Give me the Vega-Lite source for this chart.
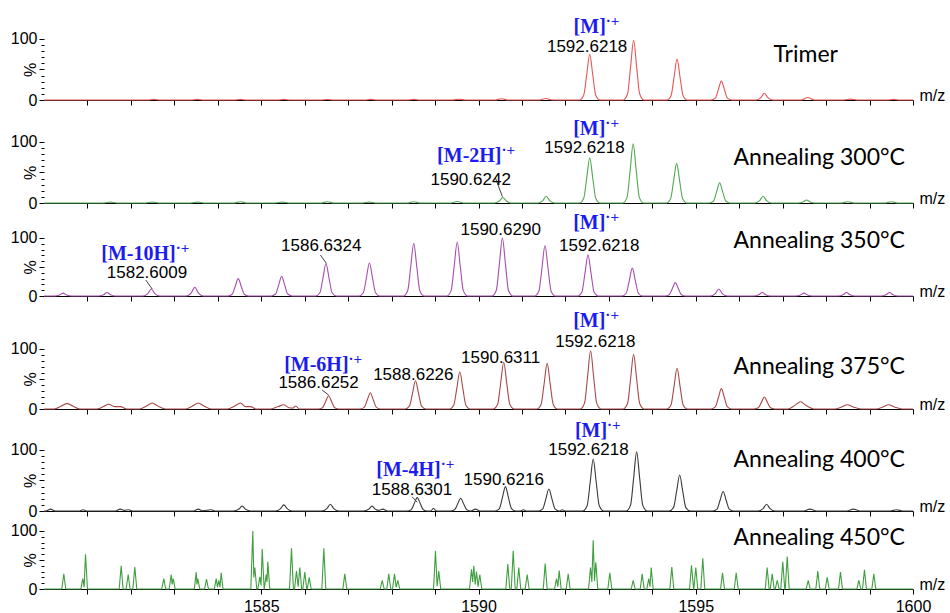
{
"$schema":"https://vega.github.io/schema/vega-lite/v6.json",
"padding":{"left":10,"top":0,"right":0,"bottom":0},
"autosize":{"type":"pad"},
"bounds":"flush",
"spacing":0,
"config":{"view":{"stroke":null},"axis":{"labelFont":"Liberation Sans","labelFontSize":16,"labelColor":"black","titleFont":"Liberation Sans","titleFontSize":16,"titleFontWeight":"normal","titleColor":"black","tickColor":"black","domainColor":"black","grid":false}},
"datasets":{
"s1":[{"x":1580,"y":0},{"x":1582.38,"y":0},{"x":1582.53,"y":1},{"x":1582.68,"y":0},{"x":1583.38,"y":0},{"x":1583.53,"y":1},{"x":1583.68,"y":0},{"x":1584.37,"y":0},{"x":1584.52,"y":1},{"x":1584.67,"y":0},{"x":1585.37,"y":0},{"x":1585.52,"y":1},{"x":1585.67,"y":0},{"x":1586.37,"y":0},{"x":1586.52,"y":0.8},{"x":1586.67,"y":0},{"x":1587.37,"y":0},{"x":1587.52,"y":1},{"x":1587.67,"y":0},{"x":1588.36,"y":0},{"x":1588.51,"y":1},{"x":1588.66,"y":0},{"x":1589.4,"y":0},{"x":1589.55,"y":1.2},{"x":1589.7,"y":0},{"x":1590.38,"y":0},{"x":1590.53,"y":2},{"x":1590.68,"y":0},{"x":1591.4,"y":0},{"x":1591.55,"y":2.5},{"x":1591.7,"y":0},
{"x":1592.32,"y":0},{"x":1592.42,"y":7.5},{"x":1592.49,"y":41.3},{"x":1592.56,"y":75},{"x":1592.63,"y":41.3},{"x":1592.7,"y":7.5},{"x":1592.8,"y":0},
{"x":1593.33,"y":0},{"x":1593.43,"y":9.8},{"x":1593.5,"y":53.9},{"x":1593.57,"y":98},{"x":1593.64,"y":53.9},{"x":1593.71,"y":9.8},{"x":1593.81,"y":0},
{"x":1594.33,"y":0},{"x":1594.43,"y":6.7},{"x":1594.5,"y":36.9},{"x":1594.57,"y":67},{"x":1594.64,"y":36.9},{"x":1594.71,"y":6.7},{"x":1594.81,"y":0},
{"x":1595.35,"y":0},{"x":1595.45,"y":3.1},{"x":1595.52,"y":17.1},{"x":1595.59,"y":31},{"x":1595.66,"y":17.1},{"x":1595.73,"y":3.1},{"x":1595.83,"y":0},
{"x":1596.38,"y":0},{"x":1596.5,"y":3.9},{"x":1596.58,"y":11},{"x":1596.66,"y":3.9},{"x":1596.78,"y":0},
{"x":1597.43,"y":0},{"x":1597.58,"y":4},{"x":1597.73,"y":0},{"x":1598.41,"y":0},{"x":1598.56,"y":1.5},{"x":1598.71,"y":0},{"x":1599.4,"y":0},{"x":1599.55,"y":1},{"x":1599.7,"y":0},{"x":1600,"y":0}],
"s2":[{"x":1580,"y":0},{"x":1581.38,"y":0},{"x":1581.53,"y":1.5},{"x":1581.68,"y":0},{"x":1582.34,"y":0},{"x":1582.49,"y":1.5},{"x":1582.64,"y":0},{"x":1583.38,"y":0},{"x":1583.53,"y":1.5},{"x":1583.68,"y":0},{"x":1584.37,"y":0},{"x":1584.52,"y":2},{"x":1584.67,"y":0},{"x":1585.33,"y":0},{"x":1585.48,"y":1.5},{"x":1585.63,"y":0},{"x":1586.37,"y":0},{"x":1586.52,"y":2},{"x":1586.67,"y":0},{"x":1587.33,"y":0},{"x":1587.48,"y":1.5},{"x":1587.63,"y":0},{"x":1588.36,"y":0},{"x":1588.51,"y":2},{"x":1588.66,"y":0},{"x":1589.36,"y":0},{"x":1589.51,"y":2.5},{"x":1589.66,"y":0},
{"x":1590.36,"y":0},{"x":1590.48,"y":3.2},{"x":1590.56,"y":9},{"x":1590.64,"y":3.2},{"x":1590.76,"y":0},
{"x":1591.36,"y":0},{"x":1591.48,"y":3.9},{"x":1591.56,"y":11},{"x":1591.64,"y":3.9},{"x":1591.76,"y":0},
{"x":1592.32,"y":0},{"x":1592.42,"y":7.4},{"x":1592.49,"y":40.7},{"x":1592.56,"y":74},{"x":1592.63,"y":40.7},{"x":1592.7,"y":7.4},{"x":1592.8,"y":0},
{"x":1593.32,"y":0},{"x":1593.42,"y":9.7},{"x":1593.49,"y":53.4},{"x":1593.56,"y":97},{"x":1593.63,"y":53.4},{"x":1593.7,"y":9.7},{"x":1593.8,"y":0},
{"x":1594.32,"y":0},{"x":1594.42,"y":6.5},{"x":1594.49,"y":35.8},{"x":1594.56,"y":65},{"x":1594.63,"y":35.8},{"x":1594.7,"y":6.5},{"x":1594.8,"y":0},
{"x":1595.31,"y":0},{"x":1595.41,"y":3.3},{"x":1595.48,"y":18.2},{"x":1595.55,"y":33},{"x":1595.62,"y":18.2},{"x":1595.69,"y":3.3},{"x":1595.79,"y":0},
{"x":1596.35,"y":0},{"x":1596.47,"y":3.9},{"x":1596.55,"y":11},{"x":1596.63,"y":3.9},{"x":1596.75,"y":0},
{"x":1597.35,"y":0},{"x":1597.47,"y":1.8},{"x":1597.55,"y":5},{"x":1597.63,"y":1.8},{"x":1597.75,"y":0},
{"x":1598.35,"y":0},{"x":1598.5,"y":2},{"x":1598.65,"y":0},{"x":1599.35,"y":0},{"x":1599.5,"y":2},{"x":1599.65,"y":0},{"x":1600,"y":0}],
"s3":[{"x":1580,"y":0},
{"x":1580.24,"y":0},{"x":1580.36,"y":1.8},{"x":1580.44,"y":5},{"x":1580.52,"y":1.8},{"x":1580.64,"y":0},
{"x":1581.25,"y":0},{"x":1581.37,"y":2.1},{"x":1581.45,"y":6},{"x":1581.53,"y":2.1},{"x":1581.65,"y":0},
{"x":1582.27,"y":0},{"x":1582.39,"y":4.2},{"x":1582.47,"y":12},{"x":1582.55,"y":4.2},{"x":1582.67,"y":0},
{"x":1583.27,"y":0},{"x":1583.39,"y":5.3},{"x":1583.47,"y":15},{"x":1583.55,"y":5.3},{"x":1583.67,"y":0},
{"x":1584.23,"y":0},{"x":1584.33,"y":3},{"x":1584.4,"y":16.5},{"x":1584.47,"y":30},{"x":1584.54,"y":16.5},{"x":1584.61,"y":3},{"x":1584.71,"y":0},
{"x":1585.23,"y":0},{"x":1585.33,"y":3.4},{"x":1585.4,"y":18.7},{"x":1585.47,"y":34},{"x":1585.54,"y":18.7},{"x":1585.61,"y":3.4},{"x":1585.71,"y":0},
{"x":1586.25,"y":0},{"x":1586.35,"y":5.6},{"x":1586.42,"y":30.8},{"x":1586.49,"y":56},{"x":1586.56,"y":30.8},{"x":1586.63,"y":5.6},{"x":1586.73,"y":0},
{"x":1587.25,"y":0},{"x":1587.35,"y":5.7},{"x":1587.42,"y":31.4},{"x":1587.49,"y":57},{"x":1587.56,"y":31.4},{"x":1587.63,"y":5.7},{"x":1587.73,"y":0},
{"x":1588.27,"y":0},{"x":1588.37,"y":9.1},{"x":1588.44,"y":50},{"x":1588.51,"y":91},{"x":1588.58,"y":50},{"x":1588.65,"y":9.1},{"x":1588.75,"y":0},
{"x":1589.27,"y":0},{"x":1589.37,"y":9.3},{"x":1589.44,"y":51.2},{"x":1589.51,"y":93},{"x":1589.58,"y":51.2},{"x":1589.65,"y":9.3},{"x":1589.75,"y":0},
{"x":1590.31,"y":0},{"x":1590.41,"y":10},{"x":1590.48,"y":55},{"x":1590.55,"y":100},{"x":1590.62,"y":55},{"x":1590.69,"y":10},{"x":1590.79,"y":0},
{"x":1591.29,"y":0},{"x":1591.39,"y":8.7},{"x":1591.46,"y":47.9},{"x":1591.53,"y":87},{"x":1591.6,"y":47.9},{"x":1591.67,"y":8.7},{"x":1591.77,"y":0},
{"x":1592.28,"y":0},{"x":1592.38,"y":7.1},{"x":1592.45,"y":39},{"x":1592.52,"y":71},{"x":1592.59,"y":39},{"x":1592.66,"y":7.1},{"x":1592.76,"y":0},
{"x":1593.3,"y":0},{"x":1593.4,"y":4.8},{"x":1593.47,"y":26.4},{"x":1593.54,"y":48},{"x":1593.61,"y":26.4},{"x":1593.68,"y":4.8},{"x":1593.78,"y":0},
{"x":1594.29,"y":0},{"x":1594.39,"y":2.3},{"x":1594.46,"y":12.7},{"x":1594.53,"y":23},{"x":1594.6,"y":12.7},{"x":1594.67,"y":2.3},{"x":1594.77,"y":0},
{"x":1595.33,"y":0},{"x":1595.45,"y":4.2},{"x":1595.53,"y":12},{"x":1595.61,"y":4.2},{"x":1595.73,"y":0},
{"x":1596.33,"y":0},{"x":1596.45,"y":2.1},{"x":1596.53,"y":6},{"x":1596.61,"y":2.1},{"x":1596.73,"y":0},
{"x":1597.29,"y":0},{"x":1597.41,"y":1.8},{"x":1597.49,"y":5},{"x":1597.57,"y":1.8},{"x":1597.69,"y":0},
{"x":1598.27,"y":0},{"x":1598.39,"y":2.1},{"x":1598.47,"y":6},{"x":1598.55,"y":2.1},{"x":1598.67,"y":0},
{"x":1599.26,"y":0},{"x":1599.38,"y":2.1},{"x":1599.46,"y":6},{"x":1599.54,"y":2.1},{"x":1599.66,"y":0},{"x":1600,"y":0}],
"s4":[{"x":1580,"y":0},
{"x":1580.23,"y":0},{"x":1580.4,"y":5},{"x":1580.53,"y":9},{"x":1580.66,"y":5},{"x":1580.83,"y":0},
{"x":1581.22,"y":0},{"x":1581.37,"y":4},{"x":1581.49,"y":8},{"x":1581.62,"y":4},{"x":1581.76,"y":4},{"x":1581.9,"y":0},
{"x":1582.2,"y":0},{"x":1582.36,"y":5},{"x":1582.49,"y":10},{"x":1582.62,"y":5},{"x":1582.8,"y":0},
{"x":1583.26,"y":0},{"x":1583.42,"y":5},{"x":1583.55,"y":10},{"x":1583.68,"y":5},{"x":1583.85,"y":0},
{"x":1584.22,"y":0},{"x":1584.39,"y":5},{"x":1584.52,"y":10},{"x":1584.64,"y":4},{"x":1584.75,"y":4},{"x":1584.88,"y":0},
{"x":1585.22,"y":0},{"x":1585.39,"y":4},{"x":1585.52,"y":7},{"x":1585.64,"y":2},{"x":1585.72,"y":1.5},{"x":1585.79,"y":5},{"x":1585.88,"y":0},
{"x":1586.31,"y":0},{"x":1586.41,"y":2.2},{"x":1586.48,"y":12.1},{"x":1586.55,"y":22},{"x":1586.62,"y":12.1},{"x":1586.69,"y":2.2},{"x":1586.79,"y":0},
{"x":1587.27,"y":0},{"x":1587.37,"y":2.7},{"x":1587.44,"y":14.9},{"x":1587.51,"y":27},{"x":1587.58,"y":14.9},{"x":1587.65,"y":2.7},{"x":1587.75,"y":0},
{"x":1588.31,"y":0},{"x":1588.41,"y":4.7},{"x":1588.48,"y":25.9},{"x":1588.55,"y":47},{"x":1588.62,"y":25.9},{"x":1588.69,"y":4.7},{"x":1588.79,"y":0},
{"x":1589.33,"y":0},{"x":1589.43,"y":6.2},{"x":1589.5,"y":34.1},{"x":1589.57,"y":62},{"x":1589.64,"y":34.1},{"x":1589.71,"y":6.2},{"x":1589.81,"y":0},
{"x":1590.34,"y":0},{"x":1590.44,"y":7.8},{"x":1590.51,"y":42.9},{"x":1590.58,"y":78},{"x":1590.65,"y":42.9},{"x":1590.72,"y":7.8},{"x":1590.82,"y":0},
{"x":1591.34,"y":0},{"x":1591.44,"y":7.6},{"x":1591.51,"y":41.8},{"x":1591.58,"y":76},{"x":1591.65,"y":41.8},{"x":1591.72,"y":7.6},{"x":1591.82,"y":0},
{"x":1592.34,"y":0},{"x":1592.44,"y":9.7},{"x":1592.51,"y":53.4},{"x":1592.58,"y":97},{"x":1592.65,"y":53.4},{"x":1592.72,"y":9.7},{"x":1592.82,"y":0},
{"x":1593.33,"y":0},{"x":1593.43,"y":9.1},{"x":1593.5,"y":50},{"x":1593.57,"y":91},{"x":1593.64,"y":50},{"x":1593.71,"y":9.1},{"x":1593.81,"y":0},
{"x":1594.33,"y":0},{"x":1594.43,"y":6.8},{"x":1594.5,"y":37.4},{"x":1594.57,"y":68},{"x":1594.64,"y":37.4},{"x":1594.71,"y":6.8},{"x":1594.81,"y":0},
{"x":1595.35,"y":0},{"x":1595.45,"y":3.4},{"x":1595.52,"y":18.7},{"x":1595.59,"y":34},{"x":1595.66,"y":18.7},{"x":1595.73,"y":3.4},{"x":1595.83,"y":0},
{"x":1596.34,"y":0},{"x":1596.44,"y":2},{"x":1596.51,"y":11},{"x":1596.58,"y":20},{"x":1596.65,"y":11},{"x":1596.72,"y":2},{"x":1596.82,"y":0},
{"x":1597.12,"y":0},{"x":1597.28,"y":6},{"x":1597.41,"y":12},{"x":1597.54,"y":6},{"x":1597.72,"y":0},
{"x":1598.2,"y":0},{"x":1598.36,"y":3.5},{"x":1598.49,"y":7},{"x":1598.62,"y":3.5},{"x":1598.8,"y":0},
{"x":1599.15,"y":0},{"x":1599.31,"y":3.5},{"x":1599.44,"y":7},{"x":1599.57,"y":3.5},{"x":1599.75,"y":0},{"x":1600,"y":0}],
"s5":[{"x":1580,"y":0},
{"x":1580.05,"y":0},{"x":1580.15,"y":3},{"x":1580.25,"y":0},
{"x":1580.8,"y":0},{"x":1580.9,"y":2},{"x":1581,"y":0},
{"x":1581.65,"y":0},{"x":1581.75,"y":3},{"x":1581.85,"y":1},{"x":1581.95,"y":2},{"x":1582.05,"y":0},
{"x":1583.45,"y":0},{"x":1583.55,"y":3},{"x":1583.65,"y":0.5},{"x":1583.85,"y":2},{"x":1583.95,"y":0},
{"x":1584.36,"y":0},{"x":1584.48,"y":2.8},{"x":1584.56,"y":8},{"x":1584.64,"y":2.8},{"x":1584.76,"y":0},
{"x":1585.32,"y":0},{"x":1585.44,"y":3.5},{"x":1585.52,"y":10},{"x":1585.6,"y":3.5},{"x":1585.72,"y":0},
{"x":1586.39,"y":0},{"x":1586.51,"y":3.9},{"x":1586.59,"y":11},{"x":1586.67,"y":3.9},{"x":1586.79,"y":0},
{"x":1587.35,"y":0},{"x":1587.47,"y":2.8},{"x":1587.55,"y":8},{"x":1587.63,"y":2.8},{"x":1587.7,"y":1},{"x":1587.8,"y":3},{"x":1587.9,"y":0},
{"x":1588.35,"y":0},{"x":1588.45,"y":2.2},{"x":1588.52,"y":12.1},{"x":1588.59,"y":22},{"x":1588.66,"y":12.1},{"x":1588.73,"y":2.2},{"x":1588.83,"y":0},{"x":1588.9,"y":0},{"x":1588.96,"y":4},{"x":1589.04,"y":0},
{"x":1589.35,"y":0},{"x":1589.45,"y":2.1},{"x":1589.52,"y":11.6},{"x":1589.59,"y":21},{"x":1589.66,"y":11.6},{"x":1589.73,"y":2.1},{"x":1589.83,"y":0},{"x":1589.93,"y":3},{"x":1590.03,"y":0},
{"x":1590.38,"y":0},{"x":1590.48,"y":4},{"x":1590.55,"y":22},{"x":1590.62,"y":40},{"x":1590.69,"y":22},{"x":1590.76,"y":4},{"x":1590.86,"y":0},
{"x":1590.95,"y":0},{"x":1591.03,"y":2},{"x":1591.11,"y":0},
{"x":1591.38,"y":0},{"x":1591.48,"y":3.6},{"x":1591.55,"y":19.8},{"x":1591.62,"y":36},{"x":1591.69,"y":19.8},{"x":1591.76,"y":3.6},{"x":1591.86,"y":0},{"x":1591.93,"y":2},{"x":1592,"y":0},
{"x":1592.4,"y":0},{"x":1592.5,"y":8.5},{"x":1592.57,"y":46.8},{"x":1592.64,"y":85},{"x":1592.71,"y":46.8},{"x":1592.78,"y":8.5},{"x":1592.88,"y":0},
{"x":1593.4,"y":0},{"x":1593.5,"y":9.7},{"x":1593.57,"y":53.4},{"x":1593.64,"y":97},{"x":1593.71,"y":53.4},{"x":1593.78,"y":9.7},{"x":1593.88,"y":0},
{"x":1594.39,"y":0},{"x":1594.49,"y":5.9},{"x":1594.56,"y":32.5},{"x":1594.63,"y":59},{"x":1594.7,"y":32.5},{"x":1594.77,"y":5.9},{"x":1594.87,"y":0},
{"x":1595.39,"y":0},{"x":1595.49,"y":3.2},{"x":1595.56,"y":17.6},{"x":1595.63,"y":32},{"x":1595.7,"y":17.6},{"x":1595.77,"y":3.2},{"x":1595.87,"y":0},
{"x":1596.43,"y":0},{"x":1596.55,"y":3.9},{"x":1596.63,"y":11},{"x":1596.71,"y":3.9},{"x":1596.83,"y":0},
{"x":1597.48,"y":0},{"x":1597.63,"y":3},{"x":1597.78,"y":0},{"x":1598.48,"y":0},{"x":1598.63,"y":3},{"x":1598.78,"y":0},{"x":1599.47,"y":0},{"x":1599.62,"y":2},{"x":1599.77,"y":0},{"x":1600,"y":0}],
"s6":[{"x":1580,"y":0},
{"x":1580.41,"y":0},{"x":1580.456,"y":26},{"x":1580.5,"y":0},
{"x":1580.85,"y":0},{"x":1580.893,"y":18},{"x":1580.924,"y":3},{"x":1580.955,"y":60},{"x":1581,"y":0},
{"x":1581.73,"y":0},{"x":1581.777,"y":40},{"x":1581.82,"y":0},
{"x":1581.89,"y":0},{"x":1581.938,"y":25},{"x":1581.98,"y":0},
{"x":1582.045,"y":0},{"x":1582.09,"y":38},{"x":1582.135,"y":0},
{"x":1582.71,"y":0},{"x":1582.757,"y":18},{"x":1582.8,"y":0},
{"x":1582.88,"y":0},{"x":1582.927,"y":25},{"x":1582.95,"y":8},{"x":1582.974,"y":18},{"x":1583.02,"y":0},
{"x":1583.46,"y":0},{"x":1583.503,"y":29},{"x":1583.52,"y":8},{"x":1583.54,"y":18},{"x":1583.585,"y":0},
{"x":1583.695,"y":0},{"x":1583.74,"y":17},{"x":1583.785,"y":0},
{"x":1583.92,"y":0},{"x":1583.963,"y":18},{"x":1583.993,"y":3},{"x":1584.023,"y":15},{"x":1584.05,"y":3},{"x":1584.078,"y":28},{"x":1584.12,"y":0},
{"x":1584.76,"y":0},{"x":1584.806,"y":100},{"x":1584.829,"y":20},{"x":1584.852,"y":37},{"x":1584.897,"y":0},
{"x":1584.922,"y":0},{"x":1584.967,"y":21},{"x":1584.995,"y":6},{"x":1585.022,"y":69},{"x":1585.067,"y":0},
{"x":1585.07,"y":0},{"x":1585.114,"y":25},{"x":1585.132,"y":12},{"x":1585.151,"y":47},{"x":1585.196,"y":0},
{"x":1585.65,"y":0},{"x":1585.696,"y":70},{"x":1585.74,"y":0},
{"x":1585.766,"y":0},{"x":1585.811,"y":31},{"x":1585.849,"y":4},{"x":1585.887,"y":37},{"x":1585.93,"y":0},
{"x":1585.957,"y":0},{"x":1586.002,"y":29},{"x":1586.047,"y":0},
{"x":1586.06,"y":0},{"x":1586.104,"y":20},{"x":1586.149,"y":0},
{"x":1586.395,"y":0},{"x":1586.44,"y":70},{"x":1586.485,"y":0},
{"x":1586.878,"y":0},{"x":1586.923,"y":26},{"x":1586.968,"y":0},
{"x":1587.739,"y":0},{"x":1587.784,"y":15},{"x":1587.829,"y":0},
{"x":1587.89,"y":0},{"x":1587.935,"y":26},{"x":1587.98,"y":0},
{"x":1588.022,"y":0},{"x":1588.067,"y":26},{"x":1588.105,"y":3},{"x":1588.143,"y":15},{"x":1588.188,"y":0},
{"x":1588.965,"y":0},{"x":1589.01,"y":66},{"x":1589.048,"y":5},{"x":1589.086,"y":31},{"x":1589.131,"y":0},
{"x":1589.794,"y":0},{"x":1589.839,"y":34},{"x":1589.865,"y":12},{"x":1589.892,"y":40},{"x":1589.923,"y":8},{"x":1589.954,"y":30},{"x":1589.99,"y":4},{"x":1590.03,"y":25},{"x":1590.075,"y":0},
{"x":1590.629,"y":0},{"x":1590.674,"y":43},{"x":1590.719,"y":0},
{"x":1590.754,"y":0},{"x":1590.799,"y":66},{"x":1590.844,"y":0},
{"x":1590.882,"y":0},{"x":1590.927,"y":37},{"x":1590.972,"y":0},
{"x":1591.075,"y":0},{"x":1591.12,"y":25},{"x":1591.165,"y":0},
{"x":1591.49,"y":0},{"x":1591.535,"y":44},{"x":1591.58,"y":0},
{"x":1591.75,"y":0},{"x":1591.795,"y":18},{"x":1591.826,"y":4},{"x":1591.857,"y":32},{"x":1591.902,"y":0},
{"x":1592.019,"y":0},{"x":1592.064,"y":26},{"x":1592.109,"y":0},
{"x":1592.533,"y":0},{"x":1592.578,"y":37},{"x":1592.609,"y":12},{"x":1592.64,"y":84},{"x":1592.67,"y":14},{"x":1592.7,"y":46},{"x":1592.745,"y":0},
{"x":1592.977,"y":0},{"x":1593.022,"y":28},{"x":1593.067,"y":0},
{"x":1593.515,"y":0},{"x":1593.56,"y":15},{"x":1593.605,"y":0},
{"x":1593.722,"y":0},{"x":1593.767,"y":26},{"x":1593.812,"y":0},
{"x":1593.874,"y":0},{"x":1593.919,"y":18},{"x":1593.947,"y":4},{"x":1593.975,"y":37},{"x":1594.02,"y":0},
{"x":1594.404,"y":0},{"x":1594.449,"y":38},{"x":1594.494,"y":0},
{"x":1594.857,"y":0},{"x":1594.902,"y":41},{"x":1594.95,"y":0},
{"x":1594.956,"y":0},{"x":1595.001,"y":37},{"x":1595.046,"y":0},
{"x":1595.117,"y":0},{"x":1595.162,"y":53},{"x":1595.207,"y":0},
{"x":1595.571,"y":0},{"x":1595.616,"y":28},{"x":1595.661,"y":0},
{"x":1595.886,"y":0},{"x":1595.931,"y":28},{"x":1595.976,"y":0},
{"x":1596.599,"y":0},{"x":1596.644,"y":37},{"x":1596.689,"y":0},
{"x":1596.715,"y":0},{"x":1596.76,"y":26},{"x":1596.805,"y":0},
{"x":1596.83,"y":0},{"x":1596.875,"y":15},{"x":1596.92,"y":0},
{"x":1596.958,"y":0},{"x":1597.003,"y":47},{"x":1597.048,"y":0},
{"x":1597.06,"y":0},{"x":1597.105,"y":56},{"x":1597.15,"y":0},
{"x":1597.543,"y":0},{"x":1597.588,"y":15},{"x":1597.633,"y":0},
{"x":1597.764,"y":0},{"x":1597.809,"y":31},{"x":1597.854,"y":0},
{"x":1597.98,"y":0},{"x":1598.025,"y":20},{"x":1598.07,"y":0},
{"x":1598.286,"y":0},{"x":1598.331,"y":29},{"x":1598.376,"y":0},
{"x":1598.708,"y":0},{"x":1598.753,"y":15},{"x":1598.798,"y":0},
{"x":1598.838,"y":0},{"x":1598.883,"y":33},{"x":1598.928,"y":0},
{"x":1599.053,"y":0},{"x":1599.098,"y":26},{"x":1599.143,"y":0},{"x":1600,"y":0}],
"ann":[
{"p":1,"k":"lab","x":1596.79,"y":62,"t":"Trimer"},
{"p":1,"k":"ion","x":1592.93,"y":110,"t":"[M]"},
{"p":1,"k":"num","x":1592.5,"y":79,"t":"1592.6218"},
{"p":2,"k":"lab","x":1595.87,"y":62,"t":"Annealing 300°C"},
{"p":2,"k":"ion","x":1592.92,"y":111.5,"t":"[M]"},
{"p":2,"k":"num","x":1592.44,"y":82,"t":"1592.6218"},
{"p":2,"k":"ion","x":1590.53,"y":67,"t":"[M-2H]"},
{"p":2,"k":"num","x":1589.82,"y":30,"t":"1590.6242"},
{"p":3,"k":"lab","x":1595.87,"y":83,"t":"Annealing 350°C"},
{"p":3,"k":"ion","x":1583.03,"y":62,"t":"[M-10H]"},
{"p":3,"k":"num","x":1582.37,"y":31,"t":"1582.6009"},
{"p":3,"k":"num","x":1586.38,"y":78,"t":"1586.6324"},
{"p":3,"k":"num","x":1590.51,"y":105,"t":"1590.6290"},
{"p":3,"k":"ion","x":1592.92,"y":115,"t":"[M]"},
{"p":3,"k":"num","x":1592.78,"y":78,"t":"1592.6218"},
{"p":4,"k":"lab","x":1595.87,"y":58,"t":"Annealing 375°C"},
{"p":4,"k":"ion","x":1587.01,"y":63,"t":"[M-6H]"},
{"p":4,"k":"num","x":1586.32,"y":35,"t":"1586.6252"},
{"p":4,"k":"num","x":1588.5,"y":48,"t":"1588.6226"},
{"p":4,"k":"num","x":1590.51,"y":77,"t":"1590.6311"},
{"p":4,"k":"ion","x":1592.92,"y":136,"t":"[M]"},
{"p":4,"k":"num","x":1592.69,"y":104,"t":"1592.6218"},
{"p":5,"k":"lab","x":1595.87,"y":72,"t":"Annealing 400°C"},
{"p":5,"k":"ion","x":1589.13,"y":57,"t":"[M-4H]"},
{"p":5,"k":"num","x":1588.47,"y":26,"t":"1588.6301"},
{"p":5,"k":"num","x":1590.58,"y":43,"t":"1590.6216"},
{"p":5,"k":"ion","x":1592.96,"y":121,"t":"[M]"},
{"p":5,"k":"num","x":1592.53,"y":92,"t":"1592.6218"},
{"p":6,"k":"lab","x":1595.87,"y":76,"t":"Annealing 450°C"}
],
"lead":[
{"p":2,"x":1590.39,"y":41,"x2":1590.55,"y2":10.3},
{"p":3,"x":1582.34,"y":27.6,"x2":1582.49,"y2":12},
{"p":3,"x":1586.36,"y":70.7,"x2":1586.5,"y2":56.4},
{"p":4,"x":1586.4,"y":31.7,"x2":1586.55,"y2":23.3},
{"p":5,"x":1588.47,"y":23.4,"x2":1588.59,"y2":14.3}
]
},
"vconcat":[
{"width":869,"height":100,
"encoding":{
"x":{"field":"x","type":"quantitative","scale":{"domain":[1580,1600],"nice":false,"zero":false},"axis":{"values":[1581,1582,1583,1584,1585,1586,1587,1588,1589,1590,1591,1592,1593,1594,1595,1596,1597,1598,1599,1600],"labels":false,"tickSize":5,"title":"m/z","titleX":875,"titleY":0,"titleAlign":"left","titleBaseline":"alphabetic","titleAnchor":"start"}},
"y":{"field":"y","type":"quantitative","scale":{"domain":[0,163.93],"nice":false,"zero":true},"axis":{"values":[0,10,20,30,40,50,60,70,80,90,100],"domain":false,"labelExpr":"datum.value === 0 || datum.value === 100 ? datum.label : ''","labelOverlap":false,"labelFlush":false,"labelPadding":2,"tickSize":{"condition":{"test":"datum.value % 50 === 0","value":5},"value":3},"title":"%","titleX":-14,"titleY":69.5,"titleAngle":-90,"titleAlign":"center","titleBaseline":"middle"}}},
"layer":[
{"data":{"values":[{}]},"mark":{"type":"rule","color":"black"},"encoding":{"x":{"datum":1580,"type":"quantitative"},"y":{"datum":0,"type":"quantitative"},"y2":{"datum":100}}},
{"data":{"name":"s1"},"mark":{"type":"line","color":"#ea5455","strokeWidth":1.1,"interpolate":"monotone"},"encoding":{}},
{"data":{"name":"ann"},"transform":[{"filter":"datum.p === 1 && datum.k === 'num'"}],"mark":{"type":"text","align":"center","baseline":"alphabetic","font":"Liberation Sans","fontSize":17,"color":"black"},"encoding":{"text":{"field":"t"}}},
{"data":{"name":"ann"},"transform":[{"filter":"datum.p === 1 && datum.k === 'ion'"}],"mark":{"type":"text","align":"right","baseline":"alphabetic","font":"Liberation Serif","fontWeight":"bold","fontSize":20,"color":"#1c1cf0"},"encoding":{"text":{"field":"t"}}},
{"data":{"name":"ann"},"transform":[{"filter":"datum.p === 1 && datum.k === 'ion'"}],"mark":{"type":"text","align":"left","baseline":"alphabetic","font":"Liberation Serif","fontWeight":"bold","fontSize":15,"dy":-7,"color":"#1c1cf0"},"encoding":{"text":{"value":"·+"}}},
{"data":{"name":"ann"},"transform":[{"filter":"datum.p === 1 && datum.k === 'lab'"}],"mark":{"type":"text","align":"left","baseline":"alphabetic","font":"Lato","fontSize":23,"color":"black"},"encoding":{"text":{"field":"t"}}}
]},
{"width":869,"height":103,
"encoding":{
"x":{"field":"x","type":"quantitative","scale":{"domain":[1580,1600],"nice":false,"zero":false},"axis":{"values":[1581,1582,1583,1584,1585,1586,1587,1588,1589,1590,1591,1592,1593,1594,1595,1596,1597,1598,1599,1600],"labels":false,"tickSize":5,"title":"m/z","titleX":875,"titleY":0,"titleAlign":"left","titleBaseline":"alphabetic","titleAnchor":"start"}},
"y":{"field":"y","type":"quantitative","scale":{"domain":[0,168.85],"nice":false,"zero":true},"axis":{"values":[0,10,20,30,40,50,60,70,80,90,100],"domain":false,"labelExpr":"datum.value === 0 || datum.value === 100 ? datum.label : ''","labelOverlap":false,"labelFlush":false,"labelPadding":2,"tickSize":{"condition":{"test":"datum.value % 50 === 0","value":5},"value":3},"title":"%","titleX":-14,"titleY":72.5,"titleAngle":-90,"titleAlign":"center","titleBaseline":"middle"}}},
"layer":[
{"data":{"values":[{}]},"mark":{"type":"rule","color":"black"},"encoding":{"x":{"datum":1580,"type":"quantitative"},"y":{"datum":0,"type":"quantitative"},"y2":{"datum":100}}},
{"data":{"name":"s2"},"mark":{"type":"line","color":"#52a852","strokeWidth":1.1,"interpolate":"monotone"},"encoding":{}},
{"data":{"name":"lead"},"transform":[{"filter":"datum.p === 2"}],"mark":{"type":"rule","color":"#444444","strokeWidth":1},"encoding":{"x2":{"field":"x2"},"y2":{"field":"y2"}}},
{"data":{"name":"ann"},"transform":[{"filter":"datum.p === 2 && datum.k === 'num'"}],"mark":{"type":"text","align":"center","baseline":"alphabetic","font":"Liberation Sans","fontSize":17,"color":"black"},"encoding":{"text":{"field":"t"}}},
{"data":{"name":"ann"},"transform":[{"filter":"datum.p === 2 && datum.k === 'ion'"}],"mark":{"type":"text","align":"right","baseline":"alphabetic","font":"Liberation Serif","fontWeight":"bold","fontSize":20,"color":"#1c1cf0"},"encoding":{"text":{"field":"t"}}},
{"data":{"name":"ann"},"transform":[{"filter":"datum.p === 2 && datum.k === 'ion'"}],"mark":{"type":"text","align":"left","baseline":"alphabetic","font":"Liberation Serif","fontWeight":"bold","fontSize":15,"dy":-7,"color":"#1c1cf0"},"encoding":{"text":{"value":"·+"}}},
{"data":{"name":"ann"},"transform":[{"filter":"datum.p === 2 && datum.k === 'lab'"}],"mark":{"type":"text","align":"left","baseline":"alphabetic","font":"Lato","fontSize":23,"color":"black"},"encoding":{"text":{"field":"t"}}}
]},
{"width":869,"height":93,
"encoding":{
"x":{"field":"x","type":"quantitative","scale":{"domain":[1580,1600],"nice":false,"zero":false},"axis":{"values":[1581,1582,1583,1584,1585,1586,1587,1588,1589,1590,1591,1592,1593,1594,1595,1596,1597,1598,1599,1600],"labels":false,"tickSize":5,"title":"m/z","titleX":875,"titleY":0,"titleAlign":"left","titleBaseline":"alphabetic","titleAnchor":"start"}},
"y":{"field":"y","type":"quantitative","scale":{"domain":[0,160.34],"nice":false,"zero":true},"axis":{"values":[0,10,20,30,40,50,60,70,80,90,100],"domain":false,"labelExpr":"datum.value === 0 || datum.value === 100 ? datum.label : ''","labelOverlap":false,"labelFlush":false,"labelPadding":2,"tickSize":{"condition":{"test":"datum.value % 50 === 0","value":5},"value":3},"title":"%","titleX":-14,"titleY":64,"titleAngle":-90,"titleAlign":"center","titleBaseline":"middle"}}},
"layer":[
{"data":{"values":[{}]},"mark":{"type":"rule","color":"black"},"encoding":{"x":{"datum":1580,"type":"quantitative"},"y":{"datum":0,"type":"quantitative"},"y2":{"datum":100}}},
{"data":{"name":"s3"},"mark":{"type":"line","color":"#a64dad","strokeWidth":1.1,"interpolate":"monotone"},"encoding":{}},
{"data":{"name":"lead"},"transform":[{"filter":"datum.p === 3"}],"mark":{"type":"rule","color":"#444444","strokeWidth":1},"encoding":{"x2":{"field":"x2"},"y2":{"field":"y2"}}},
{"data":{"name":"ann"},"transform":[{"filter":"datum.p === 3 && datum.k === 'num'"}],"mark":{"type":"text","align":"center","baseline":"alphabetic","font":"Liberation Sans","fontSize":17,"color":"black"},"encoding":{"text":{"field":"t"}}},
{"data":{"name":"ann"},"transform":[{"filter":"datum.p === 3 && datum.k === 'ion'"}],"mark":{"type":"text","align":"right","baseline":"alphabetic","font":"Liberation Serif","fontWeight":"bold","fontSize":20,"color":"#1c1cf0"},"encoding":{"text":{"field":"t"}}},
{"data":{"name":"ann"},"transform":[{"filter":"datum.p === 3 && datum.k === 'ion'"}],"mark":{"type":"text","align":"left","baseline":"alphabetic","font":"Liberation Serif","fontWeight":"bold","fontSize":15,"dy":-7,"color":"#1c1cf0"},"encoding":{"text":{"value":"·+"}}},
{"data":{"name":"ann"},"transform":[{"filter":"datum.p === 3 && datum.k === 'lab'"}],"mark":{"type":"text","align":"left","baseline":"alphabetic","font":"Lato","fontSize":23,"color":"black"},"encoding":{"text":{"field":"t"}}}
]},
{"width":869,"height":113,
"encoding":{
"x":{"field":"x","type":"quantitative","scale":{"domain":[1580,1600],"nice":false,"zero":false},"axis":{"values":[1581,1582,1583,1584,1585,1586,1587,1588,1589,1590,1591,1592,1593,1594,1595,1596,1597,1598,1599,1600],"labels":false,"tickSize":5,"title":"m/z","titleX":875,"titleY":0,"titleAlign":"left","titleBaseline":"alphabetic","titleAnchor":"start"}},
"y":{"field":"y","type":"quantitative","scale":{"domain":[0,188.33],"nice":false,"zero":true},"axis":{"values":[0,10,20,30,40,50,60,70,80,90,100],"domain":false,"labelExpr":"datum.value === 0 || datum.value === 100 ? datum.label : ''","labelOverlap":false,"labelFlush":false,"labelPadding":2,"tickSize":{"condition":{"test":"datum.value % 50 === 0","value":5},"value":3},"title":"%","titleX":-14,"titleY":83,"titleAngle":-90,"titleAlign":"center","titleBaseline":"middle"}}},
"layer":[
{"data":{"values":[{}]},"mark":{"type":"rule","color":"black"},"encoding":{"x":{"datum":1580,"type":"quantitative"},"y":{"datum":0,"type":"quantitative"},"y2":{"datum":100}}},
{"data":{"name":"s4"},"mark":{"type":"line","color":"#a84848","strokeWidth":1.1,"interpolate":"monotone"},"encoding":{}},
{"data":{"name":"lead"},"transform":[{"filter":"datum.p === 4"}],"mark":{"type":"rule","color":"#444444","strokeWidth":1},"encoding":{"x2":{"field":"x2"},"y2":{"field":"y2"}}},
{"data":{"name":"ann"},"transform":[{"filter":"datum.p === 4 && datum.k === 'num'"}],"mark":{"type":"text","align":"center","baseline":"alphabetic","font":"Liberation Sans","fontSize":17,"color":"black"},"encoding":{"text":{"field":"t"}}},
{"data":{"name":"ann"},"transform":[{"filter":"datum.p === 4 && datum.k === 'ion'"}],"mark":{"type":"text","align":"right","baseline":"alphabetic","font":"Liberation Serif","fontWeight":"bold","fontSize":20,"color":"#1c1cf0"},"encoding":{"text":{"field":"t"}}},
{"data":{"name":"ann"},"transform":[{"filter":"datum.p === 4 && datum.k === 'ion'"}],"mark":{"type":"text","align":"left","baseline":"alphabetic","font":"Liberation Serif","fontWeight":"bold","fontSize":15,"dy":-7,"color":"#1c1cf0"},"encoding":{"text":{"value":"·+"}}},
{"data":{"name":"ann"},"transform":[{"filter":"datum.p === 4 && datum.k === 'lab'"}],"mark":{"type":"text","align":"left","baseline":"alphabetic","font":"Lato","fontSize":23,"color":"black"},"encoding":{"text":{"field":"t"}}}
]},
{"width":869,"height":102,
"encoding":{
"x":{"field":"x","type":"quantitative","scale":{"domain":[1580,1600],"nice":false,"zero":false},"axis":{"values":[1581,1582,1583,1584,1585,1586,1587,1588,1589,1590,1591,1592,1593,1594,1595,1596,1597,1598,1599,1600],"labels":false,"tickSize":5,"title":"m/z","titleX":875,"titleY":0,"titleAlign":"left","titleBaseline":"alphabetic","titleAnchor":"start"}},
"y":{"field":"y","type":"quantitative","scale":{"domain":[0,167.21],"nice":false,"zero":true},"axis":{"values":[0,10,20,30,40,50,60,70,80,90,100],"domain":false,"labelExpr":"datum.value === 0 || datum.value === 100 ? datum.label : ''","labelOverlap":false,"labelFlush":false,"labelPadding":2,"tickSize":{"condition":{"test":"datum.value % 50 === 0","value":5},"value":3},"title":"%","titleX":-14,"titleY":71.5,"titleAngle":-90,"titleAlign":"center","titleBaseline":"middle"}}},
"layer":[
{"data":{"values":[{}]},"mark":{"type":"rule","color":"black"},"encoding":{"x":{"datum":1580,"type":"quantitative"},"y":{"datum":0,"type":"quantitative"},"y2":{"datum":100}}},
{"data":{"name":"s5"},"mark":{"type":"line","color":"#3a3a3a","strokeWidth":1.1,"interpolate":"monotone"},"encoding":{}},
{"data":{"name":"lead"},"transform":[{"filter":"datum.p === 5"}],"mark":{"type":"rule","color":"#444444","strokeWidth":1},"encoding":{"x2":{"field":"x2"},"y2":{"field":"y2"}}},
{"data":{"name":"ann"},"transform":[{"filter":"datum.p === 5 && datum.k === 'num'"}],"mark":{"type":"text","align":"center","baseline":"alphabetic","font":"Liberation Sans","fontSize":17,"color":"black"},"encoding":{"text":{"field":"t"}}},
{"data":{"name":"ann"},"transform":[{"filter":"datum.p === 5 && datum.k === 'ion'"}],"mark":{"type":"text","align":"right","baseline":"alphabetic","font":"Liberation Serif","fontWeight":"bold","fontSize":20,"color":"#1c1cf0"},"encoding":{"text":{"field":"t"}}},
{"data":{"name":"ann"},"transform":[{"filter":"datum.p === 5 && datum.k === 'ion'"}],"mark":{"type":"text","align":"left","baseline":"alphabetic","font":"Liberation Serif","fontWeight":"bold","fontSize":15,"dy":-7,"color":"#1c1cf0"},"encoding":{"text":{"value":"·+"}}},
{"data":{"name":"ann"},"transform":[{"filter":"datum.p === 5 && datum.k === 'lab'"}],"mark":{"type":"text","align":"left","baseline":"alphabetic","font":"Lato","fontSize":23,"color":"black"},"encoding":{"text":{"field":"t"}}}
]},
{"width":869,"height":78,
"encoding":{
"x":{"field":"x","type":"quantitative","scale":{"domain":[1580,1600],"nice":false,"zero":false},"axis":{"values":[1581,1582,1583,1584,1585,1586,1587,1588,1589,1590,1591,1592,1593,1594,1595,1596,1597,1598,1599,1600],"labels":true,"format":"d","labelExpr":"datum.value % 5 === 0 ? datum.label : ''","labelFlush":false,"labelOverlap":false,"labelPadding":4,"tickSize":5,"title":"m/z","titleX":875,"titleY":0,"titleAlign":"left","titleBaseline":"alphabetic","titleAnchor":"start"}},
"y":{"field":"y","type":"quantitative","scale":{"domain":[0,134.48],"nice":false,"zero":true},"axis":{"values":[0,10,20,30,40,50,60,70,80,90,100],"domain":false,"labelExpr":"datum.value === 0 || datum.value === 100 ? datum.label : ''","labelOverlap":false,"labelFlush":false,"labelPadding":2,"tickSize":{"condition":{"test":"datum.value % 50 === 0","value":5},"value":3},"title":"%","titleX":-14,"titleY":49,"titleAngle":-90,"titleAlign":"center","titleBaseline":"middle"}}},
"layer":[
{"data":{"values":[{}]},"mark":{"type":"rule","color":"black"},"encoding":{"x":{"datum":1580,"type":"quantitative"},"y":{"datum":0,"type":"quantitative"},"y2":{"datum":100}}},
{"data":{"name":"s6"},"mark":{"type":"line","color":"#3f9f3f","strokeWidth":1.1,"interpolate":"linear"},"encoding":{}},
{"data":{"name":"ann"},"transform":[{"filter":"datum.p === 6 && datum.k === 'lab'"}],"mark":{"type":"text","align":"left","baseline":"alphabetic","font":"Lato","fontSize":23,"color":"black"},"encoding":{"text":{"field":"t"}}}
]}
]
}
